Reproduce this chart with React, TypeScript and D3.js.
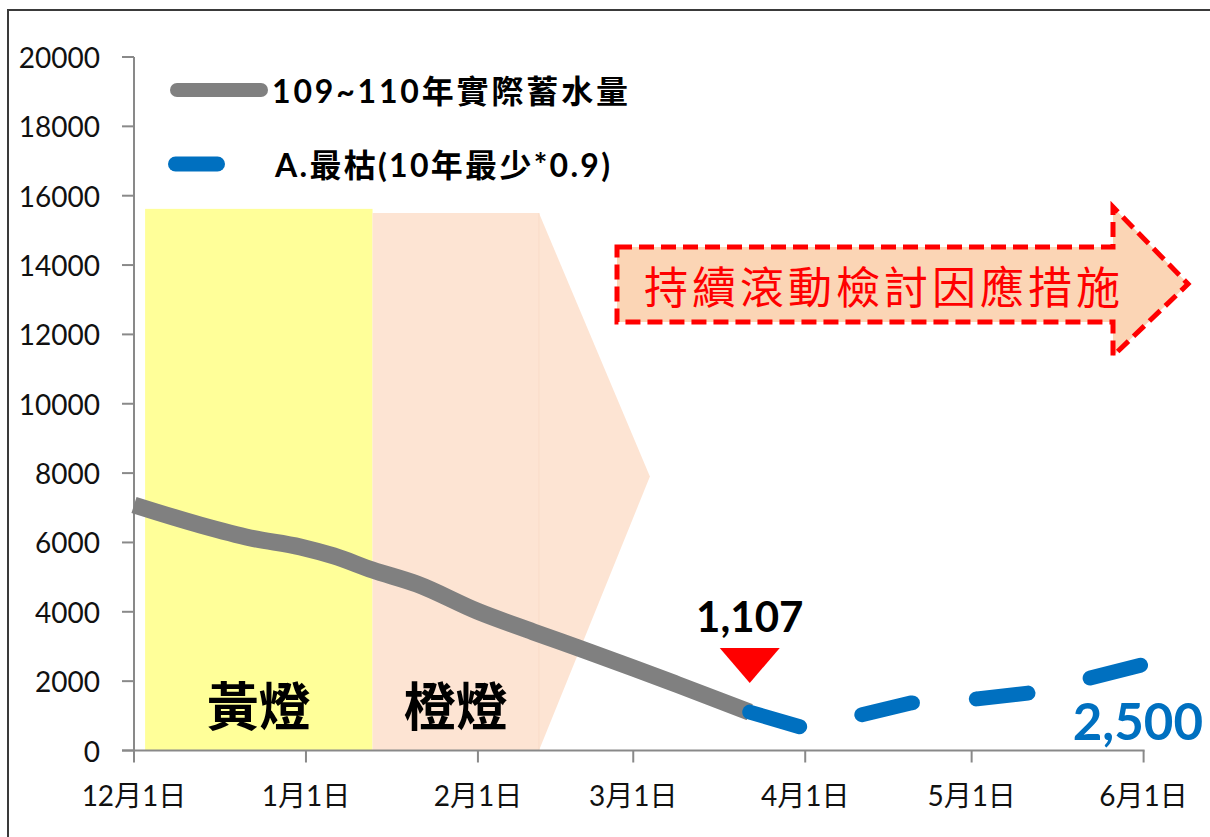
import React from "react";
import * as d3 from "d3";

// ---- data ----
const grayDates = [
  "2020-12-01", "2020-12-13", "2020-12-22", "2020-12-31", "2021-01-06", "2021-01-13",
  "2021-01-21", "2021-02-01", "2021-02-11", "2021-02-19", "2021-03-01", "2021-03-09", "2021-03-22",
];
const grayValues = [7080, 6500, 6130, 5870, 5610, 5205, 4800, 4010, 3420, 2960, 2380, 1900, 1107];

const blueDates = ["2021-03-22", "2021-04-01", "2021-04-20", "2021-05-02", "2021-05-12", "2021-06-01"];
const blueValues = [1107, 640, 1370, 1490, 1670, 2480];

const yTicks = [0, 2000, 4000, 6000, 8000, 10000, 12000, 14000, 16000, 18000, 20000];
const xTickDates = ["2020-12-01", "2021-01-01", "2021-02-01", "2021-03-01", "2021-04-01", "2021-05-01", "2021-06-01"];
const xTickLabels = ["12月1日", "1月1日", "2月1日", "3月1日", "4月1日", "5月1日", "6月1日"];

const seriesNames = ["109~110年實際蓄水量", "A.最枯(10年最少*0.9)"];

const bandLabels = ["黃燈", "橙燈"];
const bandStarts = ["2020-12-03", "2021-01-13"];
const bandEnds = ["2021-01-13", "2021-02-12"];
const bandTops = [15620, 15500];
const orangeTipDate = "2021-03-04";
const orangeTipValue = 7900;

const arrowText = "持續滾動檢討因應措施";
const endLabel = "2,500";

const parse = d3.timeParse("%Y-%m-%d");

export default function App() {
  const W = 1210, H = 837;
  const x = d3.scaleTime().domain([parse("2020-12-01")!, parse("2021-06-01")!]).range([134, 1143.6]);
  const y = d3.scaleLinear().domain([0, 20000]).range([750.5, 57]);

  const gray = grayDates.map((d, i) => ({ d: parse(d)!, v: grayValues[i] }));
  const blue = blueDates.map((d, i) => ({ d: parse(d)!, v: blueValues[i] }));
  const grayLine = d3.line<{ d: Date; v: number }>().x((p) => x(p.d)).y((p) => y(p.v)).curve(d3.curveMonotoneX);
  const blueLine = d3.line<{ d: Date; v: number }>().x((p) => x(p.d)).y((p) => y(p.v)).curve(d3.curveLinear);

  const yb0 = y(0);
  const yellowX0 = x(parse(bandStarts[0])!), yellowX1 = x(parse(bandEnds[0])!);
  const orX0 = x(parse(bandStarts[1])!), orX1 = x(parse(bandEnds[1])!);
  const tipX = x(parse(orangeTipDate)!), tipY = y(orangeTipValue);
  const orangePoly = [
    [orX0, y(bandTops[1])], [orX1, y(bandTops[1])], [tipX, tipY], [orX1, yb0], [orX0, yb0],
  ].map((p) => p.join(",")).join(" ");

  const lastGray = gray[gray.length - 1];
  const markX = x(lastGray.d);

  const font = "Lato, 'Noto Sans CJK TC', sans-serif";
  const cjk = "'Noto Sans CJK TC', sans-serif";
  const axisColor = "#898989";

  const arrowPts = [
    [617, 247], [1113, 247], [1113, 207], [1188, 284], [1113, 356], [1113, 322], [617, 322],
  ].map((p) => p.join(",")).join(" ");

  return (
    <svg width={W} height={H} style={{ position: "fixed", left: 0, top: 0, background: "#fff" }} fontFamily={font}>
      <rect x={0} y={0} width={W} height={H} fill="#fff" />
      <rect x={8} y={10} width={W + 10} height={H + 10} fill="none" stroke="#3a3a3a" strokeWidth={2} />

      {/* bands */}
      <rect x={yellowX0} y={y(bandTops[0])} width={yellowX1 - yellowX0} height={yb0 - y(bandTops[0])} fill="#FFFF99" />
      <polygon points={orangePoly} fill="#FDE4D3" />
      <line x1={orX1} x2={orX1} y1={y(bandTops[1])} y2={yb0} stroke="#F9DCC8" strokeWidth={1} />
      <text x={(yellowX0 + yellowX1) / 2} y={703} textAnchor="middle" dominantBaseline="central" fontFamily={cjk} fontWeight={700} fontSize={52} fill="#000">{bandLabels[0]}</text>
      <text x={(orX0 + orX1) / 2} y={703} textAnchor="middle" dominantBaseline="central" fontFamily={cjk} fontWeight={700} fontSize={52} fill="#000">{bandLabels[1]}</text>

      {/* big arrow */}
      <polygon points={arrowPts} fill="#FBD5B5" stroke="#FF0000" strokeWidth={5} strokeDasharray="15 7" strokeLinejoin="miter" />
      <text x={882} y={285} textAnchor="middle" dominantBaseline="central" fontFamily={cjk} fontSize={44} fill="#FF0000" textLength={476} lengthAdjust="spacing">{arrowText}</text>

      {/* y axis */}
      <line x1={134} x2={134} y1={y(20000)} y2={yb0} stroke={axisColor} strokeWidth={2} />
      {yTicks.map((t) => (
        <g key={t}>
          <line x1={122} x2={134} y1={y(t)} y2={y(t)} stroke={axisColor} strokeWidth={2} />
          <text x={100} y={y(t)} textAnchor="end" dominantBaseline="central" fontSize={28} fill="#111">{t}</text>
        </g>
      ))}

      {/* x axis */}
      <line x1={122} x2={x(parse("2021-06-01")!) + 1} y1={yb0} y2={yb0} stroke={axisColor} strokeWidth={2} />
      {xTickDates.map((d, i) => {
        const xx = x(parse(d)!);
        return (
          <g key={d}>
            <line x1={xx} x2={xx} y1={yb0} y2={yb0 + 12} stroke={axisColor} strokeWidth={2} />
            <text x={xx} y={806} textAnchor="middle" fontSize={28} fill="#111">{xTickLabels[i]}</text>
          </g>
        );
      })}

      {/* series */}
      <path d={grayLine(gray)!} fill="none" stroke="#808080" strokeWidth={17} />
      <path d={blueLine(blue)!} fill="none" stroke="#0070C0" strokeWidth={15} strokeLinecap="round" strokeLinejoin="round" strokeDasharray="52 64" />

      {/* markers */}
      <polygon points={`${markX - 30},648 ${markX + 30},648 ${markX},683`} fill="#FF0000" />
      <text x={markX} y={632} textAnchor="middle" fontSize={42} fontWeight={700} fill="#000">{lastGray.v.toLocaleString("en-US")}</text>
      <text x={1203} y={740} textAnchor="end" fontSize={51} fontWeight={700} fill="#0070C0">{endLabel}</text>

      {/* legend */}
      <line x1={177} x2={261} y1={90} y2={90} stroke="#808080" strokeWidth={14} strokeLinecap="round" />
      <text x={272} y={90} dominantBaseline="central" fontSize={32} fontWeight={700} fill="#000" textLength={356} lengthAdjust="spacing">{seriesNames[0]}</text>
      <line x1={175.5} x2={217.5} y1={164} y2={164} stroke="#0070C0" strokeWidth={15} strokeLinecap="round" />
      <text x={275} y={164} dominantBaseline="central" fontSize={32} fontWeight={700} fill="#000" textLength={335} lengthAdjust="spacing">{seriesNames[1]}</text>
    </svg>
  );
}
